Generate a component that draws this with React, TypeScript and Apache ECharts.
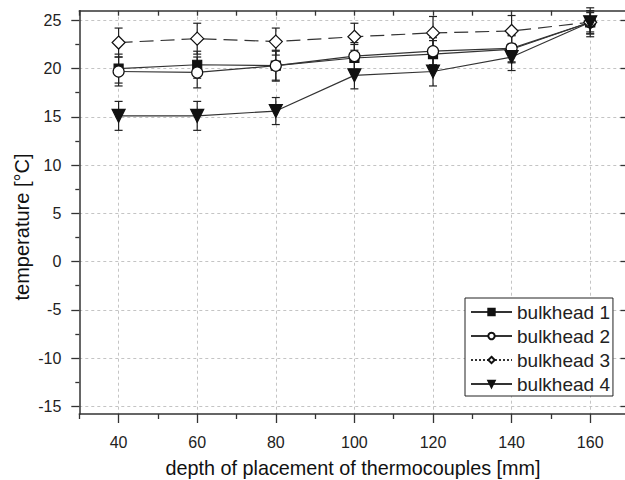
import React, { useEffect, useRef } from "react";
import * as echarts from "echarts";

// ---- data ----
const depths = [40, 60, 80, 100, 120, 140, 160];
const bulkhead1 = [20.0, 20.4, 20.3, 21.1, 21.5, 22.0, 24.8];
const bulkhead1Err = [1.5, 1.4, 1.6, 1.4, 1.4, 1.4, 1.2];
const bulkhead2 = [19.7, 19.6, 20.3, 21.3, 21.8, 22.1, 24.8];
const bulkhead2Err = [1.5, 1.6, 1.5, 1.4, 1.4, 1.4, 1.2];
const bulkhead3 = [22.7, 23.1, 22.8, 23.3, 23.7, 23.9, 24.8];
const bulkhead3Err = [1.5, 1.6, 1.4, 1.4, 1.7, 1.6, 1.0];
const bulkhead4 = [15.1, 15.1, 15.6, 19.3, 19.7, 21.2, 24.8];
const bulkhead4Err = [1.5, 1.5, 1.4, 1.4, 1.5, 1.4, 1.5];

const seriesNames = ["bulkhead 1", "bulkhead 2", "bulkhead 3", "bulkhead 4"];

const xTickLabels = [40, 60, 80, 100, 120, 140, 160];
const xMinorTicks = [30, 50, 70, 90, 110, 130, 150, 170];
const xTopTicks = [30, 40, 50, 60, 70, 80, 90, 100, 110, 120, 130, 140, 150, 160, 170];
const yTickLabels = [-15, -10, -5, 0, 5, 10, 15, 20, 25];
const yMinorTicks = [-12.5, -7.5, -2.5, 2.5, 7.5, 12.5, 17.5, 22.5];

const X_MIN = 30;
const X_MAX = 170;
const Y_MIN = -15.8;
const Y_MAX = 26;

const FONT = '"Liberation Sans", Arial, sans-serif';
const INK = "#222";

const errorBarRender = (params: any, api: any) => {
  const x = api.value(0);
  const lo = api.value(1);
  const hi = api.value(2);
  const top = api.coord([x, hi]);
  const bot = api.coord([x, lo]);
  const half = 4;
  const style = { stroke: INK, lineWidth: 1.2 };
  return {
    type: "group",
    children: [
      { type: "line", shape: { x1: top[0], y1: top[1], x2: bot[0], y2: bot[1] }, style },
      { type: "line", shape: { x1: top[0] - half, y1: top[1], x2: top[0] + half, y2: top[1] }, style },
      { type: "line", shape: { x1: bot[0] - half, y1: bot[1], x2: bot[0] + half, y2: bot[1] }, style },
    ],
  };
};

const pairs = (vals: number[]) => depths.map((d, i) => [d, vals[i]]);
const errs = (vals: number[], e: number[]) => depths.map((d, i) => [d, vals[i] - e[i], vals[i] + e[i]]);

export default function App() {
  const ref = useRef<HTMLDivElement>(null);

  useEffect(() => {
    if (!ref.current) return;
    const chart = echarts.init(ref.current, null, { renderer: "svg" });

    const axisLine = { show: true, onZero: false, lineStyle: { color: "#333", width: 1.5 } };
    const noLine = { show: false, onZero: false };
    const splitLine = { show: true, lineStyle: { color: "#c4c4c4", type: [3, 3], width: 1 } };
    const tickStyle = { color: "#333", width: 1.3 };

    const lineSeries = (name: string, vals: number[], symbol: string, size: number, filled: boolean, dashed: boolean, rotate = 0) => ({
      type: "line",
      name,
      data: pairs(vals),
      xAxisIndex: 0,
      yAxisIndex: 0,
      symbol,
      symbolSize: size,
      symbolRotate: rotate,
      showAllSymbol: true,
      lineStyle: { color: "#333", width: 1.2, type: dashed ? [14, 7] : "solid" },
      itemStyle: { color: filled ? "#111" : "#fff", borderColor: "#111", borderWidth: 1.2 },
      emphasis: { disabled: true },
      z: 3,
    });

    const errSeries = (id: string, vals: number[], e: number[]) => ({
      type: "custom",
      name: id,
      data: errs(vals, e),
      xAxisIndex: 0,
      yAxisIndex: 0,
      encode: { x: 0, y: [1, 2] },
      renderItem: errorBarRender,
      silent: true,
      z: 2,
    });

    chart.setOption({
      animation: false,
      backgroundColor: "#fff",
      grid: { left: 79.3, top: 10.7, width: 550.2, height: 403.3, containLabel: false },
      xAxis: [
        {
          type: "value",
          position: "bottom",
          min: X_MIN,
          max: X_MAX,
          axisLine,
          axisTick: { show: true, inside: false, length: 9, customValues: xTickLabels, lineStyle: tickStyle },
          axisLabel: { show: true, customValues: xTickLabels, margin: 20, fontSize: 16, color: INK, fontFamily: FONT },
          splitLine,
        },
        {
          type: "value",
          position: "bottom",
          min: X_MIN,
          max: X_MAX,
          axisLine: noLine,
          axisTick: { show: true, inside: false, length: 5, customValues: xMinorTicks, lineStyle: tickStyle },
          axisLabel: { show: false },
          splitLine: { show: false },
        },
        {
          type: "value",
          position: "top",
          min: X_MIN,
          max: X_MAX,
          axisLine,
          axisTick: { show: true, inside: true, length: 5, customValues: xTopTicks, lineStyle: tickStyle },
          axisLabel: { show: false },
          splitLine: { show: false },
        },
      ],
      yAxis: [
        {
          type: "value",
          position: "left",
          min: Y_MIN,
          max: Y_MAX,
          axisLine,
          axisTick: { show: true, inside: false, length: 8, customValues: yTickLabels, lineStyle: tickStyle },
          axisLabel: { show: true, customValues: yTickLabels, margin: 18, fontSize: 16, color: INK, fontFamily: FONT },
          splitLine,
        },
        {
          type: "value",
          position: "left",
          min: Y_MIN,
          max: Y_MAX,
          axisLine: noLine,
          axisTick: { show: true, inside: false, length: 4, customValues: yMinorTicks, lineStyle: tickStyle },
          axisLabel: { show: false },
          splitLine: { show: false },
        },
        {
          type: "value",
          position: "right",
          min: Y_MIN,
          max: Y_MAX,
          axisLine,
          axisTick: { show: true, inside: true, length: 9, customValues: yTickLabels, lineStyle: tickStyle },
          axisLabel: { show: false },
          splitLine: { show: false },
        },
      ],
      legend: {
        orient: "vertical",
        left: 465,
        top: 298,
        padding: [4, 3, 2, 5],
        itemGap: 4,
        itemWidth: 41,
        itemHeight: 8,
        backgroundColor: "#fff",
        borderColor: "#222",
        borderWidth: 1,
        borderRadius: 0,
        selectedMode: false,
        textStyle: { fontSize: 19, lineHeight: 20, color: INK, fontFamily: FONT },
        data: [
          { name: seriesNames[0] },
          { name: seriesNames[1] },
          { name: seriesNames[2], lineStyle: { type: [2, 2] } },
          { name: seriesNames[3] },
        ],
      },
      graphic: [
        {
          type: "text",
          x: 22,
          y: 227,
          rotation: Math.PI / 2,
          style: {
            text: "temperature [°C]",
            fontSize: 20,
            fontFamily: FONT,
            fill: "#111",
            align: "center",
            verticalAlign: "middle",
          },
        },
        {
          type: "text",
          x: 353,
          y: 468,
          style: {
            text: "depth of placement of thermocouples [mm]",
            fontSize: 19.8,
            fontFamily: FONT,
            fill: "#111",
            align: "center",
            verticalAlign: "middle",
          },
        },
      ],
      series: [
        errSeries("err1", bulkhead1, bulkhead1Err),
        errSeries("err2", bulkhead2, bulkhead2Err),
        errSeries("err3", bulkhead3, bulkhead3Err),
        errSeries("err4", bulkhead4, bulkhead4Err),
        lineSeries(seriesNames[0], bulkhead1, "rect", 9, true, false),
        lineSeries(seriesNames[1], bulkhead2, "circle", 11, false, false),
        lineSeries(seriesNames[2], bulkhead3, "diamond", 13, false, true),
        lineSeries(seriesNames[3], bulkhead4, "triangle", 13, true, false, 180),
      ],
    });

    return () => chart.dispose();
  }, []);

  return (
    <div style={{ position: "absolute", left: 0, top: 0, width: 625, height: 480, overflow: "hidden", background: "#fff" }}>
      <div ref={ref} style={{ width: 640, height: 480 }} />
    </div>
  );
}
